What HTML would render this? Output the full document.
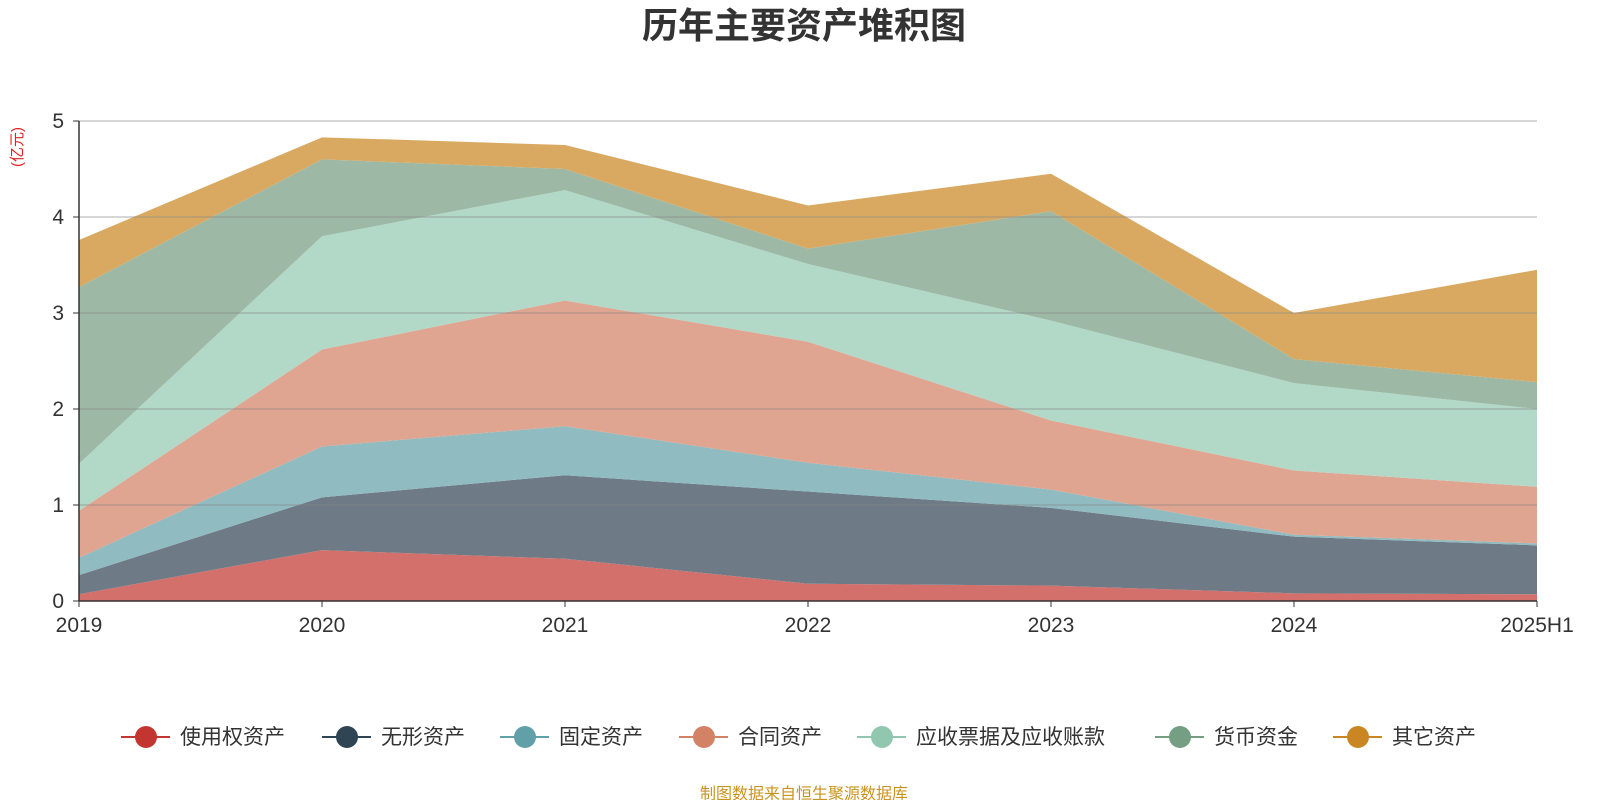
<!DOCTYPE html>
<html><head><meta charset="utf-8"><style>
body{margin:0;background:#fff;width:1600px;height:800px;overflow:hidden;font-family:"Liberation Sans","Noto Sans CJK SC",sans-serif}
</style></head><body>
<svg id="c" width="1600" height="800" xmlns="http://www.w3.org/2000/svg">
<text x="804" y="38" text-anchor="middle" font-size="36" font-weight="bold" fill="#333" font-family="Liberation Sans,Noto Sans CJK SC,sans-serif">历年主要资产堆积图</text>
<text transform="translate(22,147) rotate(-90)" text-anchor="middle" font-size="15" fill="#e02020" font-family="Liberation Sans,Noto Sans CJK SC,sans-serif">(亿元)</text>
<g id="areas"></g><g id="grid"></g><g id="axes"></g><g id="legend"></g>
<text x="804" y="799" text-anchor="middle" font-size="16" fill="#c9941e" font-family="Liberation Sans,Noto Sans CJK SC,sans-serif">制图数据来自恒生聚源数据库</text>
</svg>
<script>
const categories=["2019","2020","2021","2022","2023","2024","2025H1"];
const seriesNames=["使用权资产","无形资产","固定资产","合同资产","应收票据及应收账款","货币资金","其它资产"];
const s1=[0.07,0.53,0.44,0.18,0.16,0.08,0.07];
const s2=[0.20,0.55,0.87,0.96,0.81,0.59,0.51];
const s3=[0.18,0.53,0.51,0.30,0.19,0.02,0.02];
const s4=[0.49,1.01,1.31,1.26,0.72,0.67,0.59];
const s5=[0.49,1.18,1.15,0.81,1.04,0.91,0.81];
const s6=[1.84,0.80,0.22,0.16,1.14,0.25,0.28];
const s7=[0.49,0.23,0.25,0.45,0.39,0.48,1.17];
const yTicks=[0,1,2,3,4,5];
const series=[s1,s2,s3,s4,s5,s6,s7];
const fills=["#d4706c","#6e7b87","#8fbbc1","#e0a590","#b2d8c7","#9db9a5","#d9a962"];
const lineC=["#c23531","#2f4554","#61a0a8","#d48265","#91c7ae","#749f83","#ca8622"];
const NS="http://www.w3.org/2000/svg";
const x0=79,x1=1537,y0=601,yTop=121,yMax=5;
const X=i=>x0+i*(x1-x0)/(categories.length-1);
const Y=v=>y0-v*(y0-yTop)/yMax;
function mk(t,a,p){const e=document.createElementNS(NS,t);for(const k in a)e.setAttribute(k,a[k]);p.appendChild(e);return e;}
const areas=document.getElementById('areas');
let base=categories.map(()=>0);
series.forEach((s,k)=>{
  const top=base.map((b,i)=>b+s[i]);
  let d=top.map((v,i)=>(i?'L':'M')+X(i)+','+Y(v)).join('');
  for(let i=categories.length-1;i>=0;i--)d+='L'+X(i)+','+Y(base[i]);
  const p=mk('path',{d:d+'Z',fill:fills[k]},areas);
  
  
  base=top;
});
const grid=document.getElementById('grid'),axes=document.getElementById('axes');
yTicks.forEach(t=>{
  if(t>0){const l=mk('line',{x1:x0,x2:x1,y1:Y(t),y2:Y(t),stroke:'#888','stroke-opacity':0.45,'stroke-width':1.5},grid);
  }
  mk('line',{x1:x0-6,x2:x0,y1:Y(t),y2:Y(t),stroke:'#333'},axes);
  const tx=mk('text',{x:x0-15,y:Y(t)+7,'text-anchor':'end','font-size':21,fill:'#333'},axes);tx.textContent=t;
  
});
mk('line',{x1:x0,x2:x0,y1:yTop,y2:y0,stroke:'#333','stroke-width':1.5},axes);
mk('line',{x1:x0,x2:x1,y1:y0,y2:y0,stroke:'#333','stroke-width':1.5},axes);
categories.forEach((c,i)=>{
  mk('line',{x1:X(i),x2:X(i),y1:y0,y2:y0+6,stroke:'#333'},axes);
  const tx=mk('text',{x:X(i),y:y0+31,'text-anchor':'middle','font-size':21,fill:'#333'},axes);tx.textContent=c;
  
});
const lg=document.getElementById('legend');
const lx=[121,322,500,679,857,1155,1333];
seriesNames.forEach((n,k)=>{
  const g=mk('g',{},lg);
  
  
  mk('line',{x1:lx[k],x2:lx[k]+49,y1:737,y2:737,stroke:lineC[k],'stroke-width':2},g);
  mk('circle',{cx:lx[k]+25,cy:737,r:11,fill:lineC[k]},g);
  const t=mk('text',{x:lx[k]+59,y:744,'font-size':21,fill:'#333'},g);t.textContent=n;
});
</script>
</body></html>
